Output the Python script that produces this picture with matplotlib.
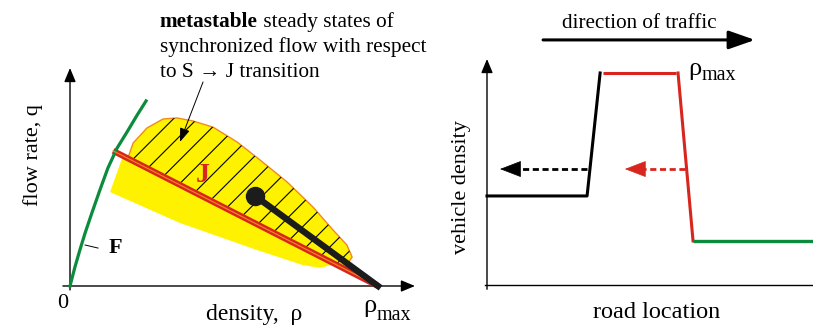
import matplotlib
matplotlib.use('Agg')
import matplotlib.pyplot as plt

plt.rcParams['font.family'] = ['Liberation Serif', 'DejaVu Serif']

GREEN = '#0a8c3c'
RED = '#d8261e'
YELLOW = '#fff200'
ORANGE = '#f08a1c'
DARK = '#1c1c1c'

# ---- left panel data: density rho (rho_max = 1), flow rate q ----
free_rho = [0.0, 0.016, 0.032, 0.049, 0.071, 0.097, 0.123, 0.153, 0.185, 0.218, 0.247]
free_q = [0.0, 0.087, 0.165, 0.243, 0.335, 0.44, 0.541, 0.633, 0.706, 0.784, 0.849]

line_j_rho = [0.14, 1.0]
line_j_q = [0.62, 0.0]

# upper (hatched, metastable) part of synchronized flow region
meta_rho = [0.188, 0.205, 0.25, 0.302, 0.347, 0.399, 0.464, 0.542, 0.617,
            0.705, 0.789, 0.854, 0.899, 0.916, 0.899, 0.89]
meta_q = [0.587, 0.656, 0.725, 0.766, 0.771, 0.757, 0.729, 0.661, 0.578,
          0.477, 0.362, 0.257, 0.188, 0.133, 0.096, 0.079]

# lower (plain) part, below line J
low_rho = [0.172, 0.13, 0.357, 0.607, 0.756, 0.812, 0.886, 0.9]
low_q = [0.597, 0.431, 0.289, 0.165, 0.096, 0.083, 0.11, 0.072]

stem_rho = [0.601, 1.0]
stem_q = [0.413, 0.0]

# ---- right panel data: road location x, vehicle density (rho_max = 1) ----
up_x = [0.0, 0.307, 0.347]
up_d = [0.42, 0.42, 1.0]
jam_x = [0.356, 0.58]
jam_d = [1.0, 1.0]
down_x = [0.586, 0.632]
down_d = [1.0, 0.208]
free_x = [0.632, 1.0]
free_d = [0.208, 0.208]

# dashed arrows (start, tip) at density level
wave_level = 0.547
up_wave = [0.307, 0.04]
down_wave = [0.607, 0.423]

fig = plt.figure(figsize=(8.13, 3.26), dpi=100)

# left panel
ax1 = fig.add_axes([0, 0, 420 / 813, 1])
ax1.set_xlim(-0.2273, 1.1364)
ax1.set_ylim(-0.1835, 1.3119)
ax1.axis('off')

ax1.fill(low_rho, low_q, color=YELLOW, lw=0, zorder=1)
meta = ax1.fill(meta_rho, meta_q, facecolor=YELLOW, edgecolor=ORANGE, lw=1,
                zorder=2)[0]
# hatching at 45 deg on screen
slope = (308 / 218)
start = -0.9
while start < 1.0:
    hl = ax1.axline((start, 0.0), slope=slope, color='k', lw=0.8, zorder=2.5)
    hl.set_clip_path(meta)
    start += 0.077

ax1.plot(line_j_rho, line_j_q, color=RED, lw=4.3, solid_capstyle='butt', zorder=4)
ax1.plot(line_j_rho, line_j_q, color=ORANGE, lw=0.8, zorder=5)
ax1.plot(free_rho, free_q, color=GREEN, lw=2.3, zorder=4)
ax1.plot(stem_rho, stem_q, color=DARK, lw=4.6, zorder=6)
ax1.plot(stem_rho[0], stem_q[0], 'o', color=DARK, ms=13, zorder=7)

axis_head = '-|>,head_length=0.6,head_width=0.25'
ax1.annotate('', xy=(0.0, 1.0), xytext=(0.0, -0.018),
             arrowprops=dict(arrowstyle=axis_head, lw=1, color='k',
                             mutation_scale=14, shrinkA=0, shrinkB=0))
ax1.annotate('', xy=(1.12, 0.0), xytext=(-0.023, 0.0),
             arrowprops=dict(arrowstyle=axis_head, lw=1, color='k',
                             mutation_scale=14, shrinkA=0, shrinkB=0))

ax1.text(-0.12, 0.60, 'flow rate, q', rotation=90, ha='center', va='center',
         fontsize=16)
ax1.text(0.597, -0.156, 'density,  \u03c1', ha='center', va='baseline', fontsize=17)
ax1.text(-0.023, -0.101, '0', ha='center', va='baseline', fontsize=16)
r1 = ax1.text(0.951, -0.12, '\u03c1', ha='left', va='baseline', fontsize=19)
ax1.annotate('max', xy=(1, 0), xycoords=r1, xytext=(0, -5.5),
             textcoords='offset points', ha='left', va='bottom', fontsize=14.5)
ax1.text(0.432, 0.509, 'J', color=RED, fontweight='bold', ha='center',
         va='center', fontsize=20, zorder=8)
ax1.text(0.146, 0.174, 'F', color='k', fontweight='bold', ha='center',
         va='center', fontsize=16)
ax1.plot([0.049, 0.091], [0.188, 0.174], color='k', lw=0.7)

t1 = ax1.text(0.292, 1.188, 'metastable', fontweight='bold', ha='left',
              va='baseline', fontsize=15.3)
ax1.annotate(' steady states of', xy=(1, 0), xycoords=t1, ha='left',
             va='bottom', fontsize=15.3)
ax1.text(0.292, 1.073, 'synchronized flow with respect', ha='left',
         va='baseline', fontsize=15.3)
ax1.text(0.292, 0.959, 'to S \u2192 J transition', ha='left', va='baseline',
         fontsize=15.3)
ax1.annotate('', xy=(0.357, 0.661), xytext=(0.432, 0.936),
             arrowprops=dict(arrowstyle='-|>,head_length=0.6,head_width=0.22',
                             lw=0.7, color='k', mutation_scale=14,
                             shrinkA=0, shrinkB=0), zorder=9)

# right panel
ax2 = fig.add_axes([420 / 813, 0, 393 / 813, 1])
ax2.set_xlim(-0.2055, 1.0)
ax2.set_ylim(-0.1934, 1.3443)
ax2.axis('off')

ax2.annotate('', xy=(0.0, 1.066), xytext=(0.0, -0.02),
             arrowprops=dict(arrowstyle=axis_head, lw=1, color='k',
                             mutation_scale=14, shrinkA=0, shrinkB=0))
ax2.plot([-0.005, 1.0], [0.0, 0.0], color='k', lw=1)

ax2.plot(up_x, up_d, color='k', lw=2.2)
ax2.plot(jam_x, jam_d, color=RED, lw=2.2, solid_capstyle='butt')
ax2.plot(down_x, down_d, color=RED, lw=2.2)
ax2.plot(free_x, free_d, color=GREEN, lw=2.4, solid_capstyle='butt')

dash_head = '-|>,head_length=0.7,head_width=0.27'
for (x0, x1), col in [(up_wave, 'k'), (down_wave, RED)]:
    ax2.plot([x0, x1 + 0.04], [wave_level, wave_level], color=col, lw=2.0,
             linestyle=(0, (2.2, 1.3)), dash_capstyle='butt')
    ax2.annotate('', xy=(x1, wave_level), xytext=(x1 + 0.06, wave_level),
                 arrowprops=dict(arrowstyle=dash_head, lw=0.5, color=col,
                                 mutation_scale=20, shrinkA=0, shrinkB=0))

ax2.annotate('', xy=(0.822, 1.156), xytext=(0.172, 1.156),
             arrowprops=dict(arrowstyle='-|>,head_length=0.8,head_width=0.28',
                             lw=2.2, color='k', mutation_scale=20,
                             shrinkA=0, shrinkB=0))
ax2.text(0.466, 1.212, 'direction of traffic', ha='center', va='baseline',
         fontsize=15.2)
r2 = ax2.text(0.617, 0.99, '\u03c1', ha='left', va='baseline', fontsize=19)
ax2.annotate('max', xy=(1, 0), xycoords=r2, xytext=(0, -3.5),
             textcoords='offset points', ha='left', va='bottom', fontsize=14.5)
ax2.text(-0.077, 0.462, 'vehicle density', rotation=90, ha='center',
         va='center', fontsize=16)
ax2.text(0.521, -0.156, 'road location', ha='center', va='baseline',
         fontsize=17.5)

fig.savefig('out.png', dpi=100)
